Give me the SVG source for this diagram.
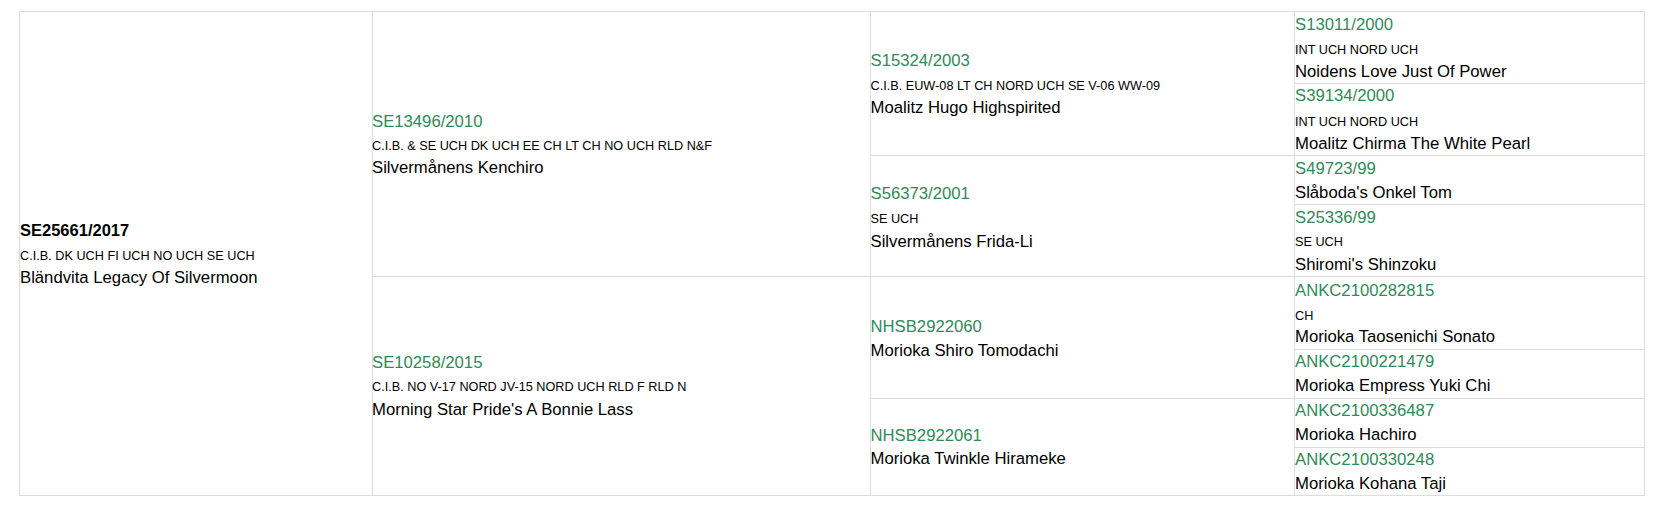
<svg xmlns="http://www.w3.org/2000/svg" width="1663" height="515" viewBox="0 0 1663 515">
<style>
.cell{fill:#fff;stroke:#dddddd;stroke-width:1}
text{font-family:"Liberation Sans",Arial,sans-serif;fill:#000}
.id{font-size:16.7px;fill:#2e8b57}
.rid{font-size:16.5px;font-weight:bold;fill:#000}
.t{font-size:12.7px}
.n{font-size:16.7px}
</style>
<rect x="0" y="0" width="1663" height="515" fill="#fff"/>
<g id="connectors"></g>
<g id="root">
<rect class="cell" x="19.5" y="11.5" width="353" height="484"/>
<text class="rid" x="20" y="235.5">SE25661/2017</text>
<text class="t" x="20" y="259.5">C.I.B. DK UCH FI UCH NO UCH SE UCH</text>
<text class="n" x="20" y="282.5">Bländvita Legacy Of Silvermoon</text>
</g>
<g id="sire">
<rect class="cell" x="372.5" y="11.5" width="498" height="265"/>
<text class="id" x="372" y="126.5">SE13496/2010</text>
<text class="t" x="372" y="149.8">C.I.B. &amp; SE UCH DK UCH EE CH LT CH NO UCH RLD N&amp;F</text>
<text class="n" x="372" y="173.2">Silvermånens Kenchiro</text>
</g>
<g id="dam">
<rect class="cell" x="372.5" y="276.5" width="498" height="219"/>
<text class="id" x="372" y="367.8">SE10258/2015</text>
<text class="t" x="372" y="391.2">C.I.B. NO V-17 NORD JV-15 NORD UCH RLD F RLD N</text>
<text class="n" x="372" y="414.5">Morning Star Pride's A Bonnie Lass</text>
</g>
<g id="ss">
<rect class="cell" x="870.5" y="11.5" width="424" height="144"/>
<text class="id" x="870.5" y="65.5">S15324/2003</text>
<text class="t" x="870.5" y="89.8">C.I.B. EUW-08 LT CH NORD UCH SE V-06 WW-09</text>
<text class="n" x="870.5" y="113.2">Moalitz Hugo Highspirited</text>
</g>
<g id="sd">
<rect class="cell" x="870.5" y="155.5" width="424" height="121"/>
<text class="id" x="870.5" y="198.8">S56373/2001</text>
<text class="t" x="870.5" y="222.8">SE UCH</text>
<text class="n" x="870.5" y="246.5">Silvermånens Frida-Li</text>
</g>
<g id="ds">
<rect class="cell" x="870.5" y="276.5" width="424" height="122"/>
<text class="id" x="870.5" y="331.5">NHSB2922060</text>
<text class="n" x="870.5" y="355.5">Morioka Shiro Tomodachi</text>
</g>
<g id="dd">
<rect class="cell" x="870.5" y="398.5" width="424" height="97"/>
<text class="id" x="870.5" y="440.5">NHSB2922061</text>
<text class="n" x="870.5" y="464.2">Morioka Twinkle Hirameke</text>
</g>
<g id="sss">
<rect class="cell" x="1294.5" y="11.5" width="350" height="72"/>
<text class="id" x="1295" y="29.5">S13011/2000</text>
<text class="t" x="1295" y="53.8">INT UCH NORD UCH</text>
<text class="n" x="1295" y="77.2">Noidens Love Just Of Power</text>
</g>
<g id="ssd">
<rect class="cell" x="1294.5" y="83.5" width="350" height="72"/>
<text class="id" x="1295" y="101.2">S39134/2000</text>
<text class="t" x="1295" y="125.5">INT UCH NORD UCH</text>
<text class="n" x="1295" y="149.2">Moalitz Chirma The White Pearl</text>
</g>
<g id="sds">
<rect class="cell" x="1294.5" y="155.5" width="350" height="49"/>
<text class="id" x="1295" y="173.8">S49723/99</text>
<text class="n" x="1295" y="197.8">Slåboda's Onkel Tom</text>
</g>
<g id="sdd">
<rect class="cell" x="1294.5" y="204.5" width="350" height="72"/>
<text class="id" x="1295" y="222.5">S25336/99</text>
<text class="t" x="1295" y="246.2">SE UCH</text>
<text class="n" x="1295" y="269.8">Shiromi's Shinzoku</text>
</g>
<g id="dss">
<rect class="cell" x="1294.5" y="276.5" width="350" height="73"/>
<text class="id" x="1295" y="295.5">ANKC2100282815</text>
<text class="t" x="1295" y="319.5">CH</text>
<text class="n" x="1295" y="342.2">Morioka Taosenichi Sonato</text>
</g>
<g id="dsd">
<rect class="cell" x="1294.5" y="349.5" width="350" height="49"/>
<text class="id" x="1295" y="367.2">ANKC2100221479</text>
<text class="n" x="1295" y="391.2">Morioka Empress Yuki Chi</text>
</g>
<g id="dds">
<rect class="cell" x="1294.5" y="398.5" width="350" height="49"/>
<text class="id" x="1295" y="416.2">ANKC2100336487</text>
<text class="n" x="1295" y="440.2">Morioka Hachiro</text>
</g>
<g id="ddd">
<rect class="cell" x="1294.5" y="447.5" width="350" height="48"/>
<text class="id" x="1295" y="464.8">ANKC2100330248</text>
<text class="n" x="1295" y="488.5">Morioka Kohana Taji</text>
</g>
</svg>
